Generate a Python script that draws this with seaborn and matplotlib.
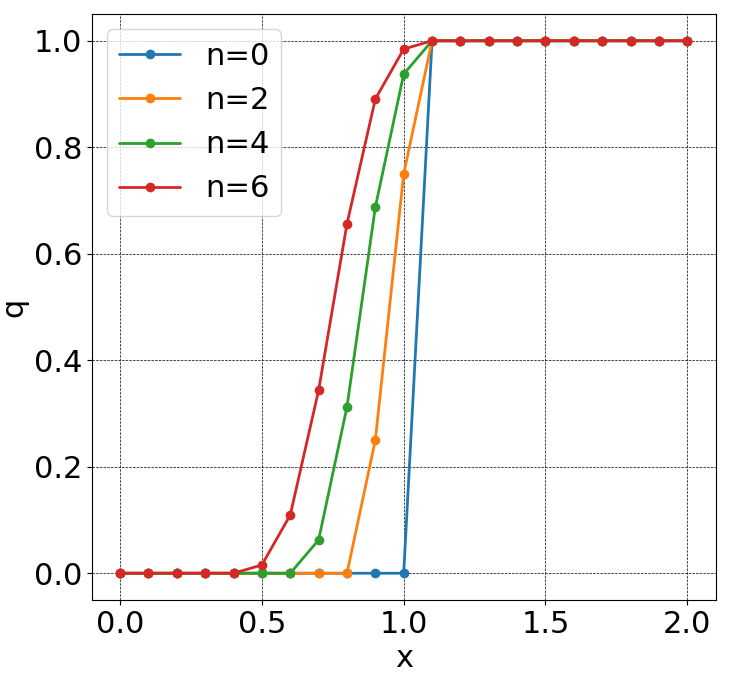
import numpy as np
import pandas as pd
import seaborn as sns
import matplotlib.pyplot as plt

x = [round(0.1 * i, 1) for i in range(21)]
q_n0 = [0, 0, 0, 0, 0, 0, 0, 0, 0, 0, 0] + [1] * 10
q_n2 = [0, 0, 0, 0, 0, 0, 0, 0, 0, 0.25, 0.75] + [1] * 10
q_n4 = [0, 0, 0, 0, 0, 0, 0, 0.0625, 0.3125, 0.6875, 0.9375] + [1] * 10
q_n6 = [0, 0, 0, 0, 0, 0.015625, 0.109375, 0.34375, 0.65625, 0.890625, 0.984375] + [1] * 10
labels = ["n=0", "n=2", "n=4", "n=6"]

rows = []
for lab, q in zip(labels, [q_n0, q_n2, q_n4, q_n6]):
    for xi, qi in zip(x, q):
        rows.append({"x": xi, "q": qi, "n": lab})
df = pd.DataFrame(rows)

sns.set_style("ticks")
plt.rcParams["font.family"] = ["DejaVu Sans"]
plt.rcParams["text.color"] = "black"
plt.rcParams["axes.labelcolor"] = "black"
plt.rcParams["xtick.color"] = "black"
plt.rcParams["ytick.color"] = "black"
plt.rcParams["axes.edgecolor"] = "black"

fig, ax = plt.subplots(figsize=(7.34, 6.74), dpi=100)
fig.subplots_adjust(left=0.125, right=0.975, top=0.979, bottom=0.11)

sns.lineplot(data=df, x="x", y="q", hue="n", palette="tab10", marker="o",
             markersize=7, markeredgewidth=0, linewidth=2, ax=ax)

ax.set_xlim(-0.1, 2.1)
ax.set_ylim(-0.05, 1.05)
ax.set_xticks([0.0, 0.5, 1.0, 1.5, 2.0])
ax.grid(True, color="black", linestyle="--", linewidth=0.5)
ax.tick_params(labelsize=22)
ax.set_xlabel("x", fontsize=22)
ax.set_ylabel("q", fontsize=22)
ax.legend(loc="upper left", fontsize=22)

plt.savefig("out.png")
